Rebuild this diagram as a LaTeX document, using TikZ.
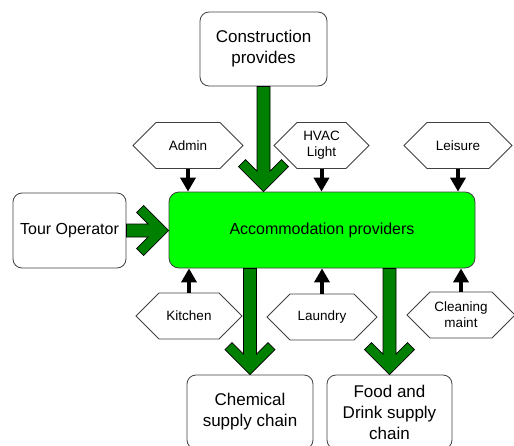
\documentclass[tikz,border=0pt]{standalone}
\usepackage{fontspec}
\setmainfont{Liberation Sans}
\usetikzlibrary{shapes.symbols,arrows.meta,calc}

\definecolor{accgreen}{RGB}{0,255,0}
\definecolor{flowgreen}{RGB}{0,128,0}

\tikzset{
  box/.style={draw=black!75, line width=0.8pt, rounded corners=9pt, align=center,
    inner sep=0pt, font=\fontsize{17}{21}\selectfont},
  hexa/.style={draw=black!75, line width=0.8pt, signal, signal to=east and west,
    signal pointer angle=90, minimum height=46pt, align=center, inner sep=0pt,
    font=\fontsize{13.5}{16}\selectfont},
  feed/.style={-{Triangle[width=15pt,length=14pt]}, line width=4pt},
  flow/.style={fill=flowgreen, draw=black, line width=0.8pt, line join=miter,
    to path={(\tikztotarget)
      -- ($(\tikztotarget)!35.36pt!45:(\tikztostart)$)
      -- ($(\tikztotarget)!36.71pt!29.36:(\tikztostart)$)
      -- ($(\tikztotarget)!21.51pt!17.59:(\tikztostart)$)
      -- ($(\tikztostart)!6.5pt!-90:(\tikztotarget)$)
      -- ($(\tikztostart)!6.5pt!90:(\tikztotarget)$)
      -- ($(\tikztotarget)!21.51pt!-17.59:(\tikztostart)$)
      -- ($(\tikztotarget)!36.71pt!-29.36:(\tikztostart)$)
      -- ($(\tikztotarget)!35.36pt!-45:(\tikztostart)$)
      -- cycle}}
}

\begin{document}
\begin{tikzpicture}[x=1pt,y=-1pt]
\useasboundingbox (0,0) rectangle (514,445);
\clip (0,0) rectangle (514,445);

% Main box
\node[box, fill=accgreen, rounded corners=10pt, minimum width=306pt, minimum height=76pt,
  font=\fontsize{16}{20}\selectfont] (acc) at (322,230) {Accommodation providers};

% Outer boxes
\node[box, minimum width=127pt, minimum height=74pt] (cons) at (263.5,49) {Construction\\provides};
\node[box, minimum width=113pt, minimum height=75pt, font=\fontsize{16}{20}\selectfont] (tour) at (69.5,230.5) {Tour Operator};
\node[box, minimum width=126pt, minimum height=74pt] (chem) at (250,412) {Chemical\\supply chain};
\node[box, minimum width=125pt, minimum height=74pt] (food) at (389.5,412) {Food and\\Drink supply\\chain};

% Services above
\node[hexa, minimum width=110pt] (admin) at (188,145.5) {Admin};
\node[hexa, minimum width=95pt] (hvac) at (321.5,145.5) {HVAC\\Light};
\node[hexa, minimum width=108pt] (leisure) at (458,145.5) {Leisure};

% Services below
\node[hexa, minimum width=106pt] (kitchen) at (189,316) {Kitchen};
\node[hexa, minimum width=110pt] (laundry) at (322,317) {Laundry};
\node[hexa, minimum width=108pt] (cleaning) at (461,315) {Cleaning\\maint};

% Small arrows
\draw[feed] (admin.south) -- (admin.south |- acc.north);
\draw[feed] (hvac.south) -- (hvac.south |- acc.north);
\draw[feed] (leisure.south) -- (leisure.south |- acc.north);
\draw[feed] (kitchen.north) -- (kitchen.north |- acc.south);
\draw[feed] (laundry.north) -- (laundry.north |- acc.south);
\draw[feed] (cleaning.north) -- (cleaning.north |- acc.south);

% Big arrows
\path[flow] (cons.south) to (cons.south |- acc.north);
\path[flow] (tour.east) to (tour.east -| acc.west);
\path[flow] (acc.south -| chem.north) to (chem.north);
\path[flow] (acc.south -| food.north) to (food.north);

\end{tikzpicture}
\end{document}
